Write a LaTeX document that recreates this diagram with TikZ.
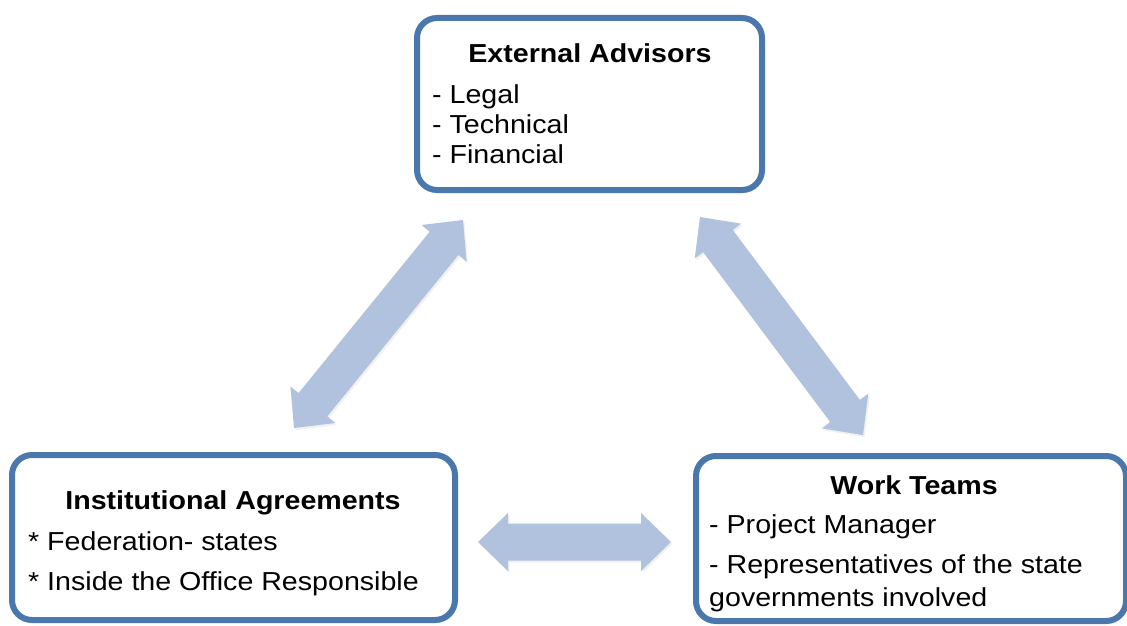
\documentclass[tikz,border=0pt]{standalone}
\usepackage{fontspec}
\setmainfont{Liberation Sans}[FakeStretch=1.1]
\usetikzlibrary{calc,shadows}
\definecolor{boxblue}{RGB}{74,120,173}
\definecolor{arrblue}{RGB}{176,194,222}
\newcommand{\dblarrow}[2]{%
  \coordinate (ha) at ($(#1)!30pt!(#2)$);
  \coordinate (hb) at ($(#2)!30pt!(#1)$);
  \fill[arrowfill] (#1) -- ($(ha)!29pt!90:(#2)$) -- ($(ha)!18.5pt!90:(#2)$)
    -- ($(hb)!18.5pt!-90:(#1)$) -- ($(hb)!29pt!-90:(#1)$) -- (#2)
    -- ($(hb)!29pt!90:(#1)$) -- ($(hb)!18.5pt!90:(#1)$)
    -- ($(ha)!18.5pt!-90:(#2)$) -- ($(ha)!29pt!-90:(#2)$) -- cycle;}
\tikzset{
  box/.style={draw=boxblue, line width=6pt, rounded corners=20pt, fill=white,
    inner sep=0pt, drop shadow={shadow xshift=2pt, shadow yshift=-3pt, opacity=0.2}},
  title/.style={font=\fontsize{26}{30}\selectfont\bfseries, inner sep=0pt, anchor=base},
  item/.style={font=\fontsize{26}{30}\selectfont, inner sep=0pt, anchor=base west},
  arrowfill/.style={fill=arrblue, drop shadow={shadow xshift=1.5pt, shadow yshift=-2pt, opacity=0.12}}
}
\begin{document}
\begin{tikzpicture}[x=1pt,y=1pt]
\useasboundingbox (0,0) rectangle (1127,-626);
\begin{scope}
\clip (0,0) rectangle (1127,-626);
% boxes
\node[box, minimum width=345pt, minimum height=172pt] (ext) at (589.5,-104) {};
\node[box, minimum width=443pt, minimum height=165pt] (inst) at (233.5,-537.5) {};
\node[box, minimum width=430pt, minimum height=165pt] (work) at (911,-538.5) {};
\end{scope}
% texts
\node[title] (extT) at (590,-63) {External Advisors};
\node[item] (ext1) at (432,-103) {- Legal};
\node[item] (ext2) at (432,-133) {- Technical};
\node[item] (ext3) at (432,-163) {- Financial};
\node[title] (instT) at (233,-509) {Institutional Agreements};
\node[item] (inst1) at (28,-550) {* Federation- states};
\node[item] (inst2) at (28,-590) {* Inside the Office Responsible};
\node[title] (workT) at (914,-494) {Work Teams};
\node[item] (work1) at (709,-533) {- Project Manager};
\node[item] (work2) at (709,-573) {- Representatives of the state};
\node[item] (work3) at (709,-606) {governments involved};
% arrows
\coordinate (L1) at (294,-428);
\coordinate (L2) at (463,-220);
\coordinate (R1) at (700,-217);
\coordinate (R2) at (863,-435);
\coordinate (H1) at (478,-542);
\coordinate (H2) at (671,-542);
\dblarrow{L1}{L2}
\dblarrow{R1}{R2}
\dblarrow{H1}{H2}
\end{tikzpicture}
\end{document}
